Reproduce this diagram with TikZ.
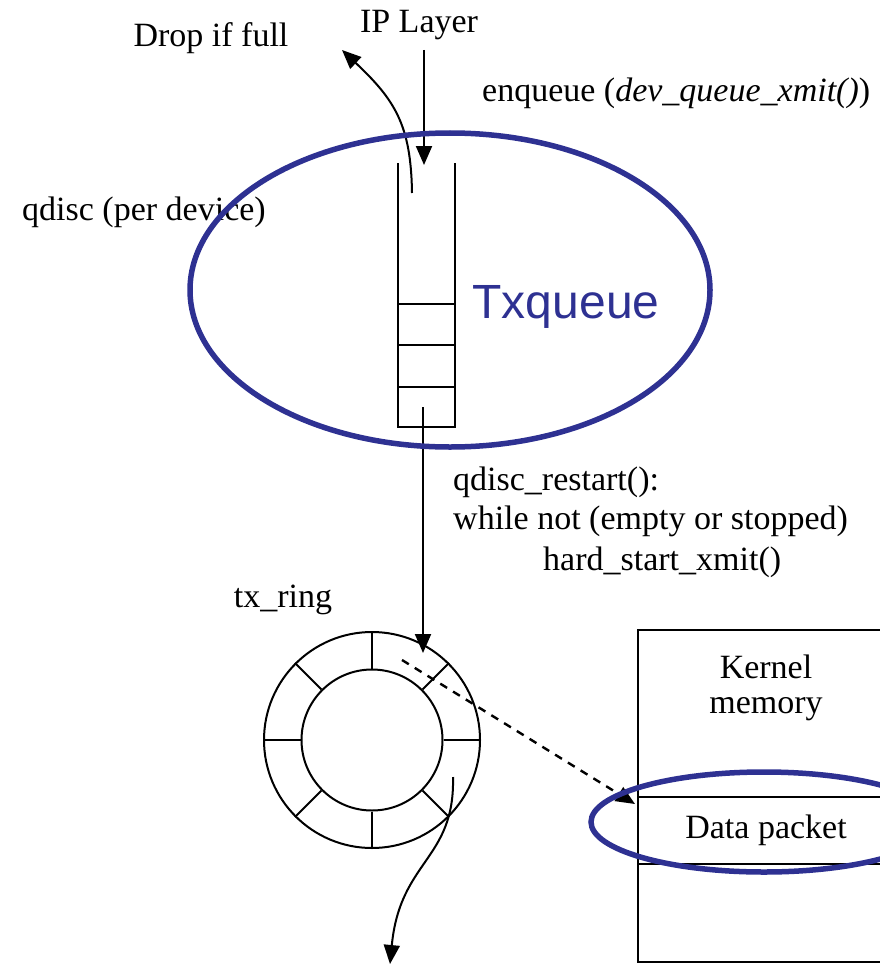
\documentclass[tikz,border=0pt]{standalone}
\usepackage{fontspec}
\setmainfont{Liberation Serif}
\newfontfamily\labelsans{Liberation Sans}
\usetikzlibrary{arrows.meta,shapes.geometric}
\definecolor{ovalblue}{RGB}{46,49,146}
\tikzset{
  wire/.style={line width=2pt, black},
  tip/.style={-{Triangle[length=19pt,width=16pt]}},
  lbl/.style={inner sep=0pt, font=\fontsize{34}{40}\selectfont},
  oval/.style={draw=ovalblue, line width=5.5pt, ellipse, inner sep=0pt},
}
\begin{document}
\begin{tikzpicture}[x=1pt,y=-1pt]
\useasboundingbox (0,0) rectangle (880,971);

% ---- labels ----
\node[lbl, anchor=base] (ip) at (419,33) {IP Layer};
\node[lbl, anchor=base] (drop) at (211,47) {Drop if full};
\node[lbl, anchor=base west] (enq) at (482,102) {enqueue (\textit{dev\_queue\_xmit()})};
\node[lbl, anchor=base west] (qd) at (22,220) {qdisc (per device)};
\node[lbl, anchor=base west] (rst1) at (453,490) {qdisc\_restart():};
\node[lbl, anchor=base west] (rst2) at (453,529) {while not (empty or stopped)};
\node[lbl, anchor=base west] (rst3) at (543,570) {hard\_start\_xmit()};
\node[lbl, anchor=base] (txr) at (283,607) {tx\_ring};

% ---- queue (open at the top) ----
\coordinate (qtl) at (398,163);
\coordinate (qtr) at (455,163);
\coordinate (qbl) at (398,427);
\coordinate (qbr) at (455,427);
\draw[wire] (qtl) -- (qbl) -- (qbr) -- (qtr);
\foreach \yy in {304,345,387}
  \draw[wire] (398,\yy) -- (455,\yy);

% ---- transmit ring ----
\node[draw, circle, wire, minimum size=216pt, inner sep=0pt] (ring) at (372,740) {};
\node[draw, circle, wire, minimum size=141pt, inner sep=0pt] (hub) at (372,740) {};
\foreach \a in {0,45,...,315}
  \draw[wire] (hub.\a) -- (ring.\a);

% ---- kernel memory ----
\draw[wire] (885,630) -- (638,630) -- (638,962) -- (885,962);
\draw[wire] (638,797) -- (885,797);
\draw[wire] (638,864) -- (885,864);
\node[lbl, anchor=base] (kern) at (766,678) {Kernel};
\node[lbl, anchor=base] (mem) at (766,713) {memory};
\node[lbl, anchor=base] (pkt) at (766,838) {Data packet};
\coordinate (slot) at (635,804);

% ---- connectors ----
\coordinate (ipsrc) at (424,50);
\coordinate (qin) at (424,165);
\draw[wire, tip] (ipsrc) -- (qin);

\coordinate (dropsrc) at (412,193);
\coordinate (dropend) at (342,50);
\draw[wire, tip] (dropsrc) .. controls (411,125) and (395,100) .. (dropend);

\coordinate (qout) at (423,407);
\coordinate (ringin) at (423,653);
\draw[wire, tip] (qout) -- (ringin);

\coordinate (dsrc) at (402,660);
\draw[wire, tip, line width=2.4pt, dash pattern=on 8pt off 7pt] (dsrc) -- (slot);

\coordinate (xsrc) at (453,777);
\coordinate (xend) at (390,964);
\draw[wire, tip] (xsrc) .. controls (455,860) and (400,860) .. (xend);

% ---- highlight ovals ----
\node[oval, minimum width=520pt, minimum height=314pt] (txq) at (450,290) {};
\node[anchor=base, inner sep=0pt, text=ovalblue, font=\labelsans\fontsize{48}{54}\selectfont] (txqlbl) at (566,318) {Txqueue};
\node[oval, minimum width=346pt, minimum height=100pt] (pktoval) at (764,822) {};
\end{tikzpicture}
\end{document}
